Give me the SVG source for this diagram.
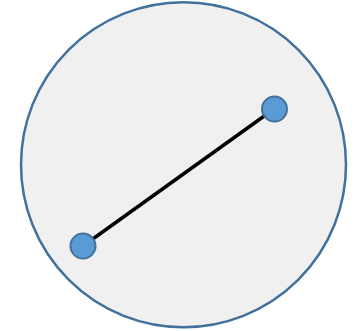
<svg xmlns="http://www.w3.org/2000/svg" width="360" height="331" viewBox="0 0 360 331">
<style>
.node{fill:#5B9BD5;stroke:#41719C;stroke-width:2}
</style>
<g id="outer">
<circle cx="183.5" cy="164.7" r="162.5" fill="#F0F0F0" stroke="#41719C" stroke-width="2.5"/>
</g>
<g id="connectors">
<line x1="83" y1="246" x2="274" y2="109" stroke="#000" stroke-width="3.5"/>
</g>
<g id="nodeA"><circle class="node" cx="83" cy="246" r="12.5"/></g>
<g id="nodeB"><circle class="node" cx="274.5" cy="109" r="12.5"/></g>
</svg>
